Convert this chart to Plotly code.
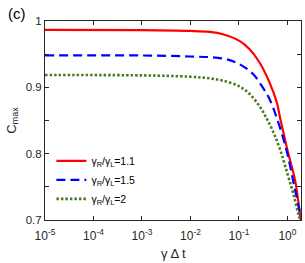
import plotly.graph_objects as go

# log10(gamma*dt) sample positions and read values
red_logx = [-5, -3, -2.01, -1.6, -1.33, -0.99, -0.78, -0.575, -0.37, -0.22, -0.154, -0.006, 0.164, 0.26, 0.28]
red_y = [0.9865, 0.9862, 0.985, 0.9835, 0.98, 0.97, 0.9575, 0.9375, 0.9075, 0.8775, 0.855, 0.8075, 0.7575, 0.7075, 0.697]

blue_logx = [-5, -3, -2.01, -1.33, -0.99, -0.71, -0.51, -0.37, -0.236, -0.027, 0.123, 0.267, 0.28]
blue_y = [0.948, 0.948, 0.9465, 0.9435, 0.935, 0.92, 0.90, 0.8825, 0.8575, 0.8075, 0.7575, 0.7075, 0.703]

green_logx = [-5, -3, -2.01, -1.6, -1.33, -0.99, -0.78, -0.575, -0.45, -0.30, -0.15, 0.0, 0.12, 0.23, 0.28]
green_y = [0.9185, 0.918, 0.916, 0.9135, 0.91, 0.9015, 0.89, 0.8715, 0.856, 0.834, 0.806, 0.77, 0.74, 0.7075, 0.695]

names = ["γ<sub>R</sub>/γ<sub>L</sub>=1.1", "γ<sub>R</sub>/γ<sub>L</sub>=1.5", "γ<sub>R</sub>/γ<sub>L</sub>=2"]

xtick_vals = [1e-5, 1e-4, 1e-3, 1e-2, 1e-1, 1e0]
xtick_text = ["10<sup>-5</sup>", "10<sup>-4</sup>", "10<sup>-3</sup>", "10<sup>-2</sup>", "10<sup>-1</sup>", "10<sup>0</sup>"]
ytick_vals = [0.7, 0.75, 0.8, 0.85, 0.9, 0.95, 1.0]
ytick_text = ["0.7", "", "0.8", "", "0.9", "", "1"]

FONT = "Liberation Sans, Arial, sans-serif"
AX = "#262626"

fig = go.Figure()
fig.add_trace(go.Scatter(x=[10**v for v in red_logx], y=red_y, mode="lines", name=names[0],
                         line=dict(color="#ff0000", width=2.2, shape="spline")))
fig.add_trace(go.Scatter(x=[10**v for v in blue_logx], y=blue_y, mode="lines", name=names[1],
                         line=dict(color="#0000ff", width=2.2, dash="9px,5px", shape="spline")))
fig.add_trace(go.Scatter(x=[10**v for v in green_logx], y=green_y, mode="lines", name=names[2],
                         line=dict(color="#4b7a22", width=2.6, dash="2.5px,2px", shape="spline")))

fig.update_layout(
    template="none",
    width=305, height=263,
    margin=dict(l=45, r=4, t=21, b=43, autoexpand=False),
    paper_bgcolor="white", plot_bgcolor="white",
    font=dict(family=FONT, size=11, color=AX),
    showlegend=True,
    legend=dict(x=0.025, y=0.37, xanchor="left", yanchor="top",
                bgcolor="rgba(255,255,255,0)", borderwidth=0,
                font=dict(family=FONT, size=10.5, color="black"),
                itemwidth=30, tracegroupgap=0),
)
fig.update_xaxes(type="log", range=[-5, 0.28], tickvals=xtick_vals, ticktext=xtick_text,
                 ticks="inside", ticklen=4, tickcolor=AX, showline=True, linecolor=AX,
                 linewidth=1, mirror="ticks", showgrid=False, zeroline=False, automargin=False,
                 ticklabelstandoff=5,
                 tickfont=dict(family=FONT, size=12, color=AX))
fig.update_yaxes(range=[0.7, 1.0], tickvals=ytick_vals, ticktext=ytick_text,
                 ticks="inside", ticklen=4, tickcolor=AX, showline=True, linecolor=AX,
                 linewidth=1, mirror="ticks", showgrid=False, zeroline=False, automargin=False,
                 title=dict(text="C<sub>max</sub>", font=dict(family=FONT, size=13, color=AX), standoff=6),
                 tickfont=dict(family=FONT, size=11.5, color=AX))
fig.add_annotation(text="γ Δ t", xref="paper", yref="paper", x=0.5, y=-0.17,
                   xanchor="center", yanchor="middle", showarrow=False,
                   font=dict(family=FONT, size=13, color=AX))
fig.add_annotation(text="(c)", xref="paper", yref="paper", x=-0.109, y=1.04,
                   xanchor="center", yanchor="middle", showarrow=False,
                   font=dict(family=FONT, size=15, color="black"))

fig.write_html("out.html", config={"displayModeBar": False},
               post_script="document.body.style.margin='0';document.body.style.overflow='hidden';")
